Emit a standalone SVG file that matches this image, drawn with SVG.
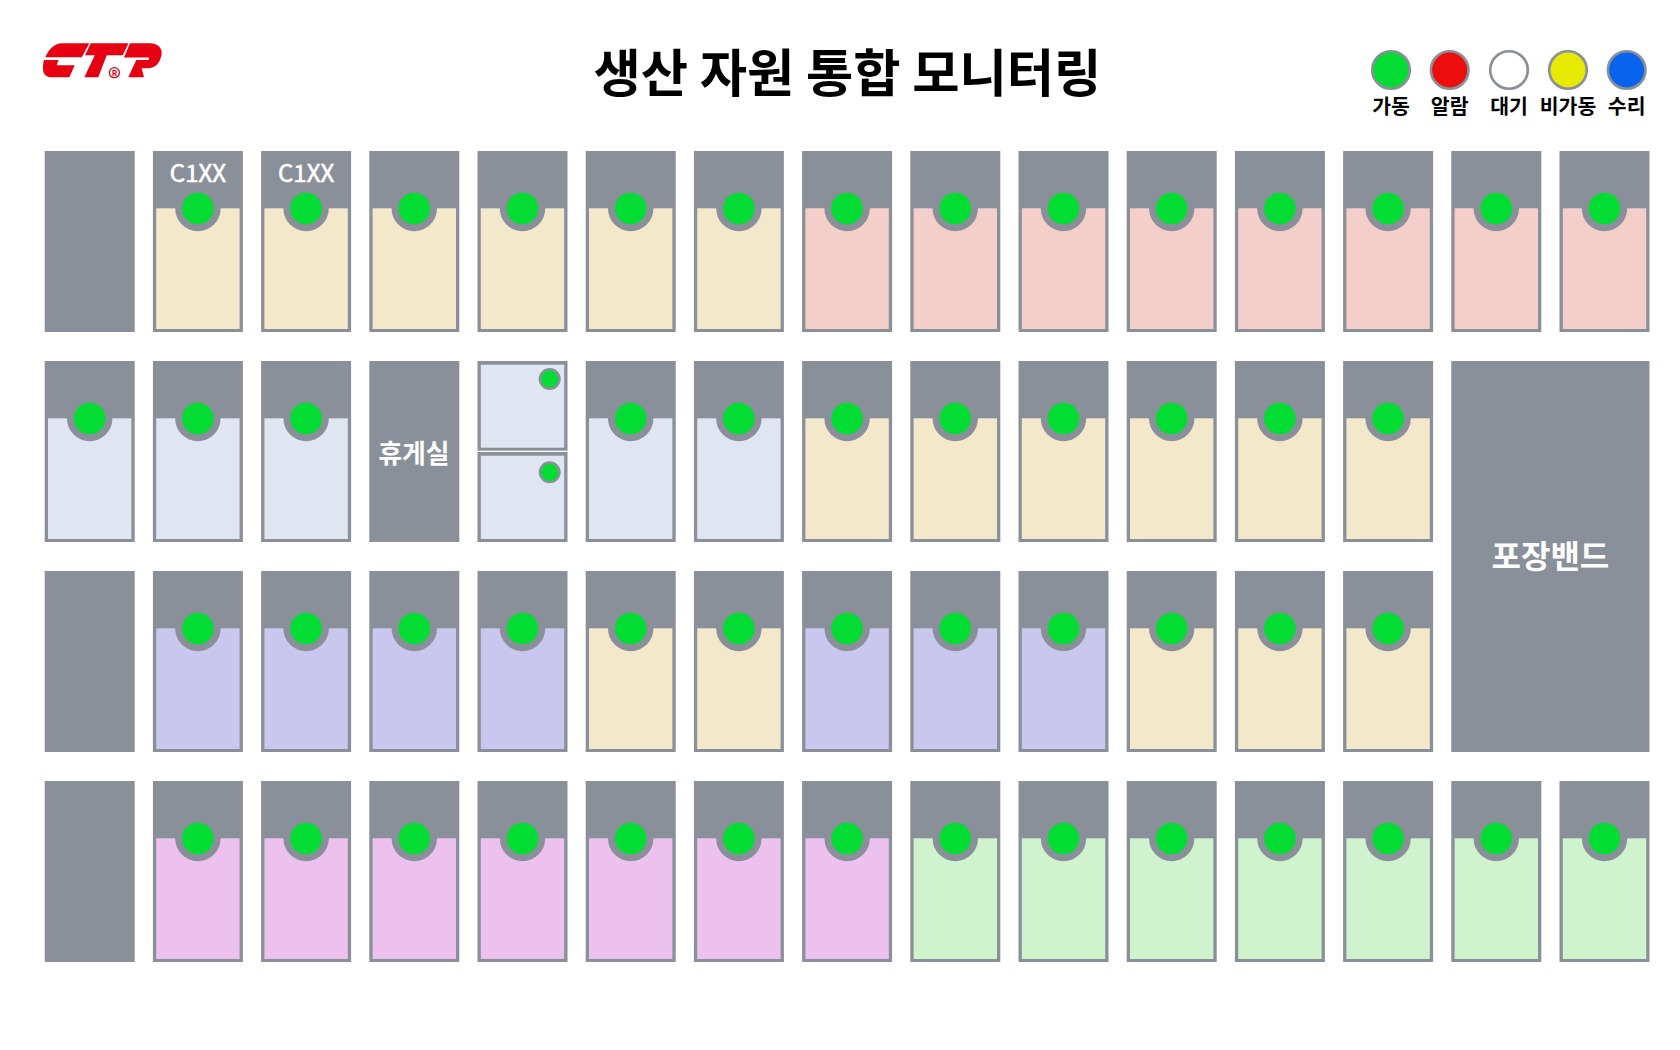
<svg xmlns="http://www.w3.org/2000/svg" width="1680" height="1050" viewBox="0 0 1680 1050">
<style>
text{font-family:"Noto Sans CJK KR","Noto Sans",sans-serif;text-anchor:middle}
.g{fill:#8a9099}
.on{fill:#03dc32}
.cr{fill:#f3e8ca}.pk{fill:#f4cfc9}.bl{fill:#dfe5f1}.lv{fill:#c9c7ee}.mv{fill:#ecc1ee}.gr{fill:#cff3cc}
.lg{stroke:#8a9099;stroke-width:2.6}
.lt{font-size:20.5px;font-weight:700;fill:#000}
.w{fill:#fff;font-weight:700}
.m{fill:#fff;font-size:24px;stroke:#fff;stroke-width:.6}
</style>
<rect width="1680" height="1050" fill="#fff"/>
<g id="logo" fill="#e60012">
<path d="M89.3 43.3H62C54 43.3 48.5 50 45.3 57.3H81.8Z"/>
<path d="M44 60H58.5L56.7 65.3H74.7L69.3 77.3H52C46 77.3 43 74 43 69C43 65 43.3 62 44 60Z"/>
<path d="M90.8 43.3H128.5L122.7 55.3H106.7L98.3 77.3H84.3L94.8 55.3H85Z"/>
<path d="M130 43.3H150C158 43.3 163 49 161.5 55C160 63 155 68.3 148 68.3H141.7L144 77.3H128.3L136.3 60H147.5C148.5 60 149 59.4 149 58.7C149 58 148.5 57.5 147.5 57.5H124Z"/>
<circle cx="114.4" cy="72.7" r="5" fill="none" stroke="#e60012" stroke-width="1.3"/>
<text x="114.4" y="75.7" style="font-size:8px;font-weight:700" fill="#e60012">R</text>
</g>
<text id="title" x="847.5" y="91.5" style="font-size:51.4px;font-weight:700" fill="#000">생산 자원 통합 모니터링</text>
<g id="legend">
<g id="lg-run"><circle class="lg" cx="1391" cy="70" r="18.8" fill="#03dc32"/><text class="lt" x="1391" y="114">가동</text></g>
<g id="lg-alarm"><circle class="lg" cx="1449.7" cy="70" r="18.8" fill="#ec0d0d"/><text class="lt" x="1449.7" y="114">알람</text></g>
<g id="lg-wait"><circle class="lg" cx="1509" cy="70" r="18.8" fill="#fff"/><text class="lt" x="1509" y="114">대기</text></g>
<g id="lg-idle"><circle class="lg" cx="1568" cy="70" r="18.8" fill="#e6ea03"/><text class="lt" x="1568" y="114">비가동</text></g>
<g id="lg-repair"><circle class="lg" cx="1626.7" cy="70" r="18.8" fill="#0864ee"/><text class="lt" x="1626.7" y="114">수리</text></g>
</g>
<defs>
<g id="cell"><rect class="g" width="90" height="181"/><rect x="3.3" y="57.3" width="83.4" height="120.7"/><circle class="g" cx="45" cy="57.5" r="22.7"/><circle class="on" cx="45" cy="57.5" r="15.8"/></g>
</defs>
<g id="row1">
<g id="r1c0"><rect class="g" x="44.7" y="151" width="90" height="181"/></g>
<g id="r1c1"><use href="#cell" class="cr" x="152.9" y="151"/><text class="m" x="197.9" y="182">C1XX</text></g>
<g id="r1c2"><use href="#cell" class="cr" x="261.1" y="151"/><text class="m" x="306.1" y="182">C1XX</text></g>
<g id="r1c3"><use href="#cell" class="cr" x="369.3" y="151"/></g>
<g id="r1c4"><use href="#cell" class="cr" x="477.5" y="151"/></g>
<g id="r1c5"><use href="#cell" class="cr" x="585.7" y="151"/></g>
<g id="r1c6"><use href="#cell" class="cr" x="693.9" y="151"/></g>
<g id="r1c7"><use href="#cell" class="pk" x="802.1" y="151"/></g>
<g id="r1c8"><use href="#cell" class="pk" x="910.3" y="151"/></g>
<g id="r1c9"><use href="#cell" class="pk" x="1018.5" y="151"/></g>
<g id="r1c10"><use href="#cell" class="pk" x="1126.7" y="151"/></g>
<g id="r1c11"><use href="#cell" class="pk" x="1234.9" y="151"/></g>
<g id="r1c12"><use href="#cell" class="pk" x="1343.1" y="151"/></g>
<g id="r1c13"><use href="#cell" class="pk" x="1451.3" y="151"/></g>
<g id="r1c14"><use href="#cell" class="pk" x="1559.5" y="151"/></g>
</g>
<g id="row2">
<g id="r2c0"><use href="#cell" class="bl" x="44.7" y="361"/></g>
<g id="r2c1"><use href="#cell" class="bl" x="152.9" y="361"/></g>
<g id="r2c2"><use href="#cell" class="bl" x="261.1" y="361"/></g>
<g id="r2c3"><rect class="g" x="369.3" y="361" width="90" height="181"/><text class="w" x="414" y="462.7" style="font-size:25.8px">휴게실</text></g>
<g id="r2c4a"><rect class="g" x="477.5" y="361" width="90" height="89.7"/><rect class="bl" x="480.8" y="364.7" width="83.4" height="83"/><circle class="on" cx="549.7" cy="379" r="9.8" stroke="#8a9099" stroke-width="2.4"/></g>
<g id="r2c4b"><rect class="g" x="477.5" y="452" width="90" height="90"/><rect class="bl" x="480.8" y="455.7" width="83.4" height="83.3"/><circle class="on" cx="549.7" cy="472.3" r="9.8" stroke="#8a9099" stroke-width="2.4"/></g>
<g id="r2c5"><use href="#cell" class="bl" x="585.7" y="361"/></g>
<g id="r2c6"><use href="#cell" class="bl" x="693.9" y="361"/></g>
<g id="r2c7"><use href="#cell" class="cr" x="802.1" y="361"/></g>
<g id="r2c8"><use href="#cell" class="cr" x="910.3" y="361"/></g>
<g id="r2c9"><use href="#cell" class="cr" x="1018.5" y="361"/></g>
<g id="r2c10"><use href="#cell" class="cr" x="1126.7" y="361"/></g>
<g id="r2c11"><use href="#cell" class="cr" x="1234.9" y="361"/></g>
<g id="r2c12"><use href="#cell" class="cr" x="1343.1" y="361"/></g>
<g id="band"><rect class="g" x="1451.3" y="361" width="198.2" height="391"/><text class="w" x="1550.4" y="568" style="font-size:32px">포장밴드</text></g>
</g>
<g id="row3">
<g id="r3c0"><rect class="g" x="44.7" y="571" width="90" height="181"/></g>
<g id="r3c1"><use href="#cell" class="lv" x="152.9" y="571"/></g>
<g id="r3c2"><use href="#cell" class="lv" x="261.1" y="571"/></g>
<g id="r3c3"><use href="#cell" class="lv" x="369.3" y="571"/></g>
<g id="r3c4"><use href="#cell" class="lv" x="477.5" y="571"/></g>
<g id="r3c5"><use href="#cell" class="cr" x="585.7" y="571"/></g>
<g id="r3c6"><use href="#cell" class="cr" x="693.9" y="571"/></g>
<g id="r3c7"><use href="#cell" class="lv" x="802.1" y="571"/></g>
<g id="r3c8"><use href="#cell" class="lv" x="910.3" y="571"/></g>
<g id="r3c9"><use href="#cell" class="lv" x="1018.5" y="571"/></g>
<g id="r3c10"><use href="#cell" class="cr" x="1126.7" y="571"/></g>
<g id="r3c11"><use href="#cell" class="cr" x="1234.9" y="571"/></g>
<g id="r3c12"><use href="#cell" class="cr" x="1343.1" y="571"/></g>
</g>
<g id="row4">
<g id="r4c0"><rect class="g" x="44.7" y="781" width="90" height="181"/></g>
<g id="r4c1"><use href="#cell" class="mv" x="152.9" y="781"/></g>
<g id="r4c2"><use href="#cell" class="mv" x="261.1" y="781"/></g>
<g id="r4c3"><use href="#cell" class="mv" x="369.3" y="781"/></g>
<g id="r4c4"><use href="#cell" class="mv" x="477.5" y="781"/></g>
<g id="r4c5"><use href="#cell" class="mv" x="585.7" y="781"/></g>
<g id="r4c6"><use href="#cell" class="mv" x="693.9" y="781"/></g>
<g id="r4c7"><use href="#cell" class="mv" x="802.1" y="781"/></g>
<g id="r4c8"><use href="#cell" class="gr" x="910.3" y="781"/></g>
<g id="r4c9"><use href="#cell" class="gr" x="1018.5" y="781"/></g>
<g id="r4c10"><use href="#cell" class="gr" x="1126.7" y="781"/></g>
<g id="r4c11"><use href="#cell" class="gr" x="1234.9" y="781"/></g>
<g id="r4c12"><use href="#cell" class="gr" x="1343.1" y="781"/></g>
<g id="r4c13"><use href="#cell" class="gr" x="1451.3" y="781"/></g>
<g id="r4c14"><use href="#cell" class="gr" x="1559.5" y="781"/></g>
</g>
</svg>
